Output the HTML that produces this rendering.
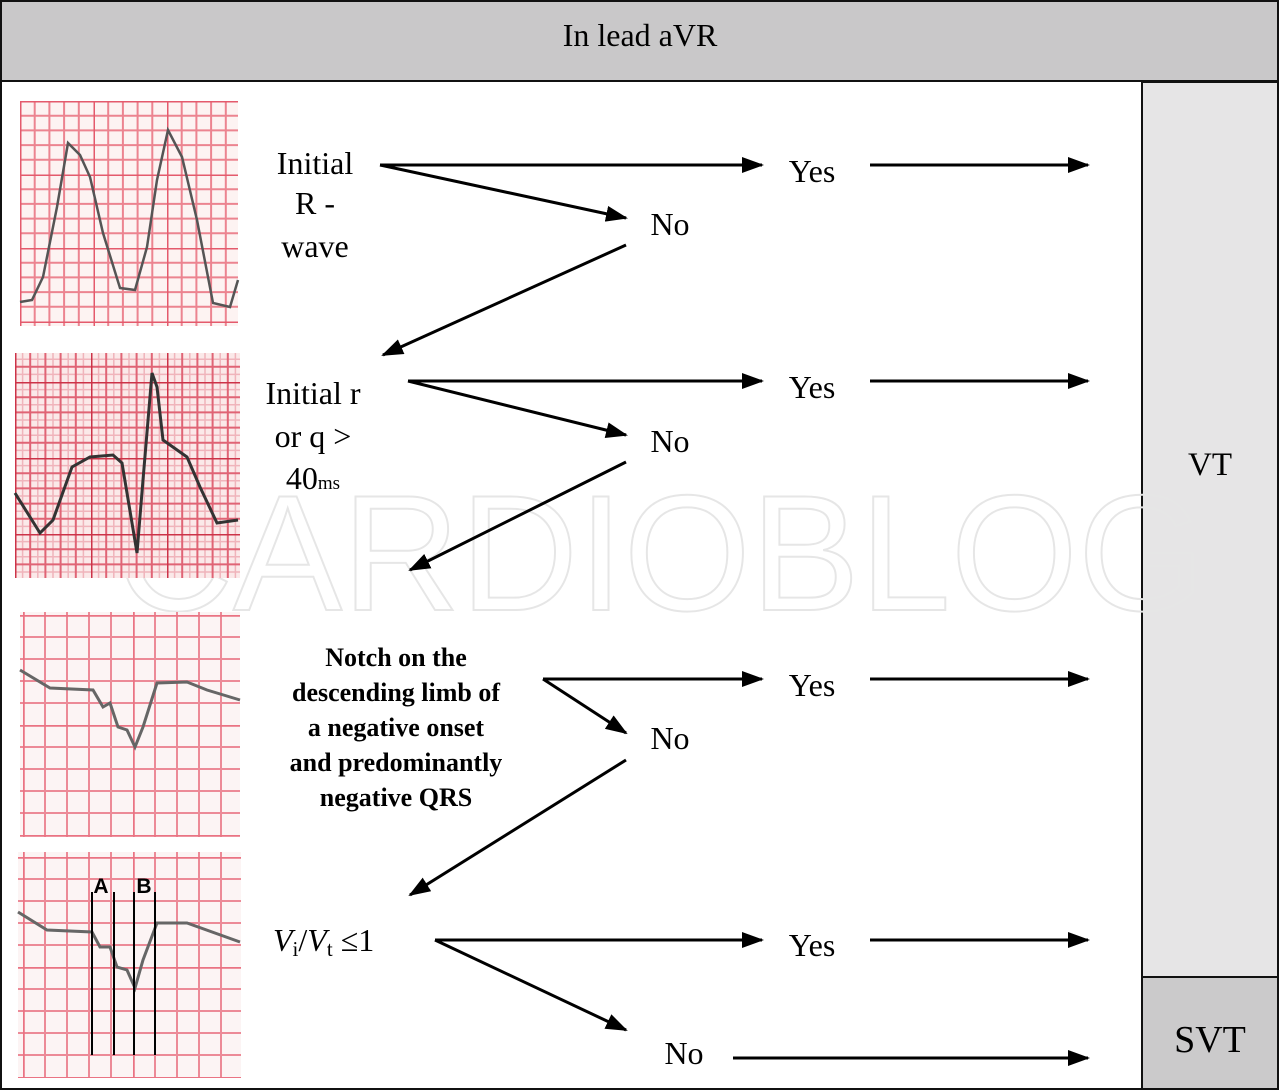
<!DOCTYPE html>
<html><head><meta charset="utf-8"><style>
html,body{margin:0;padding:0;background:#fff}
svg{display:block}
text{font-family:"Liberation Serif",serif;fill:#000}
text.sans{font-family:"Liberation Sans",sans-serif}
</style></head><body>
<svg width="1280" height="1092" viewBox="0 0 1280 1092" xmlns="http://www.w3.org/2000/svg">
<defs>
<marker id="ah" markerWidth="22" markerHeight="16" refX="20" refY="8" orient="auto" markerUnits="userSpaceOnUse" viewBox="0 0 22 16">
<path d="M0,0 L22,8 L0,16 z" fill="#000"/></marker>
<pattern id="g1" x="20" y="101" width="73.5" height="73.5" patternUnits="userSpaceOnUse">
<rect width="73.5" height="73.5" fill="#fdf3f2"/>
<path d="M14.7,0V73.5M29.4,0V73.5M44.1,0V73.5M58.8,0V73.5M0,14.7H73.5M0,29.4H73.5M0,44.1H73.5M0,58.8H73.5" stroke="#ec8490" stroke-width="2"/>
<path d="M0,0V73.5M0,0H73.5" stroke="#e45a6c" stroke-width="3"/></pattern>
<pattern id="g2" x="15" y="306" width="76" height="76" patternUnits="userSpaceOnUse">
<rect width="76" height="76" fill="#fbe9e9"/>
<path d="M7.6,0V76M22.8,0V76M38,0V76M53.2,0V76M68.4,0V76M0,7.6H76M0,22.8H76M0,38H76M0,53.2H76M0,68.4H76" stroke="#f0b4bb" stroke-width="1.5"/>
<path d="M15.2,0V76M30.4,0V76M45.6,0V76M60.8,0V76M0,15.2H76M0,30.4H76M0,45.6H76M0,60.8H76" stroke="#e06475" stroke-width="2"/>
<path d="M0,0V76M0,0H76" stroke="#cc3348" stroke-width="3"/></pattern>
<pattern id="g3" x="23" y="615" width="110" height="110" patternUnits="userSpaceOnUse">
<rect width="110" height="110" fill="#fcf4f4"/>
<path d="M22,0V110M44,0V110M66,0V110M88,0V110M0,22H110M0,44H110M0,66H110M0,88H110" stroke="#ec8a97" stroke-width="2"/>
<path d="M0,0V110M0,0H110" stroke="#ea7383" stroke-width="3.5"/></pattern>
<pattern id="g4" x="23" y="857" width="110" height="110" patternUnits="userSpaceOnUse">
<rect width="110" height="110" fill="#fcf4f4"/>
<path d="M22,0V110M44,0V110M66,0V110M88,0V110M0,22H110M0,44H110M0,66H110M0,88H110" stroke="#ec8a97" stroke-width="2"/>
<path d="M0,0V110M0,0H110" stroke="#ea7383" stroke-width="3.5"/></pattern>
</defs>
<rect x="1" y="1" width="1277" height="1088" fill="#fff" stroke="#111" stroke-width="2"/>
<rect x="1" y="1" width="1277" height="80" fill="#c9c8c9" stroke="#111" stroke-width="2"/>
<text x="640" y="46" font-size="32" text-anchor="middle">In lead aVR</text>
<rect x="1142" y="82" width="136" height="895" fill="#e6e5e6" stroke="#111" stroke-width="2"/>
<rect x="1142" y="977" width="136" height="112" fill="#cbcacb" stroke="#111" stroke-width="2"/>
<text x="1210" y="475" font-size="33" text-anchor="middle">VT</text>
<text x="1210" y="1052" font-size="38" text-anchor="middle">SVT</text>

<text class="sans" x="660" y="610" font-size="165" text-anchor="middle" style="fill:none;stroke:#e6e6e6;stroke-width:2" textLength="1090" lengthAdjust="spacingAndGlyphs">CARDIOBLOG</text>

<rect x="20" y="101" width="218" height="225" fill="url(#g1)"/>
<polyline fill="none" stroke="#555" stroke-width="2.5" points="20,302 32,300 43,277 57,207 68,143 80,155 90,177 103,233 120,288 135,290 147,247 157,180 168,130 182,157 197,220 213,303 230,307 238,280"/>
<rect x="15" y="353" width="225" height="225" fill="url(#g2)"/>
<polyline fill="none" stroke="#333" stroke-width="3" points="15,493 40,533 53,520 72,467 90,457 113,455 122,463 137,553 143,480 152,373 157,387 163,440 187,457 200,487 217,523 238,520"/>
<rect x="20" y="612" width="220" height="225" fill="url(#g3)"/>
<polyline fill="none" stroke="#666" stroke-width="3" points="20,670 50,688 93,690 103,707 110,703 118,727 127,730 135,747 143,727 157,683 187,682 207,690 240,700"/>
<rect x="18" y="852" width="223" height="226" fill="url(#g4)"/>
<polyline fill="none" stroke="#666" stroke-width="3" points="18,912 47,930 92,932 100,947 110,947 117,967 127,970 135,988 143,960 157,923 187,923 240,942"/>
<path d="M92,892V1055M114,892V1055M134,892V1055M155,892V1055" stroke="#000" stroke-width="2"/>
<text class="sans" x="101" y="893" font-size="21" font-weight="bold" text-anchor="middle">A</text>
<text class="sans" x="144" y="893" font-size="21" font-weight="bold" text-anchor="middle">B</text>

<g font-size="32" text-anchor="middle">
<text x="315" y="174">Initial</text>
<text x="315" y="214">R -</text>
<text x="315" y="257">wave</text>
<text x="313" y="404">Initial r</text>
<text x="313" y="447">or q &gt;</text>
<text x="313" y="489">40<tspan font-size="19">ms</tspan></text>
</g>
<g font-size="26" font-weight="bold" text-anchor="middle">
<text x="396" y="666">Notch on the</text>
<text x="396" y="701">descending limb of</text>
<text x="396" y="736">a negative onset</text>
<text x="396" y="771">and predominantly</text>
<text x="396" y="806">negative QRS</text>
</g>
<text x="273" y="951" font-size="32"><tspan font-style="italic">V</tspan><tspan font-size="21" dy="5">i</tspan><tspan dy="-5">/</tspan><tspan font-style="italic">V</tspan><tspan font-size="21" dy="5">t</tspan><tspan dy="-5"> ≤1</tspan></text>

<g font-size="32" text-anchor="middle">
<text x="812" y="182">Yes</text><text x="670" y="235">No</text>
<text x="812" y="398">Yes</text><text x="670" y="452">No</text>
<text x="812" y="696">Yes</text><text x="670" y="749">No</text>
<text x="812" y="956">Yes</text><text x="684" y="1064">No</text>
</g>

<g stroke="#000" stroke-width="3" marker-end="url(#ah)">
<line x1="380" y1="165" x2="762" y2="165"/><line x1="870" y1="165" x2="1088" y2="165"/>
<line x1="380" y1="165" x2="626" y2="218"/><line x1="626" y1="245" x2="383" y2="355"/>
<line x1="408" y1="381" x2="762" y2="381"/><line x1="870" y1="381" x2="1088" y2="381"/>
<line x1="408" y1="381" x2="626" y2="435"/><line x1="626" y1="462" x2="410" y2="570"/>
<line x1="543" y1="679" x2="762" y2="679"/><line x1="870" y1="679" x2="1088" y2="679"/>
<line x1="543" y1="679" x2="626" y2="733"/><line x1="626" y1="760" x2="410" y2="895"/>
<line x1="435" y1="940" x2="762" y2="940"/><line x1="870" y1="940" x2="1088" y2="940"/>
<line x1="435" y1="940" x2="626" y2="1030"/><line x1="733" y1="1058" x2="1088" y2="1058"/>
</g>
</svg>
</body></html>
